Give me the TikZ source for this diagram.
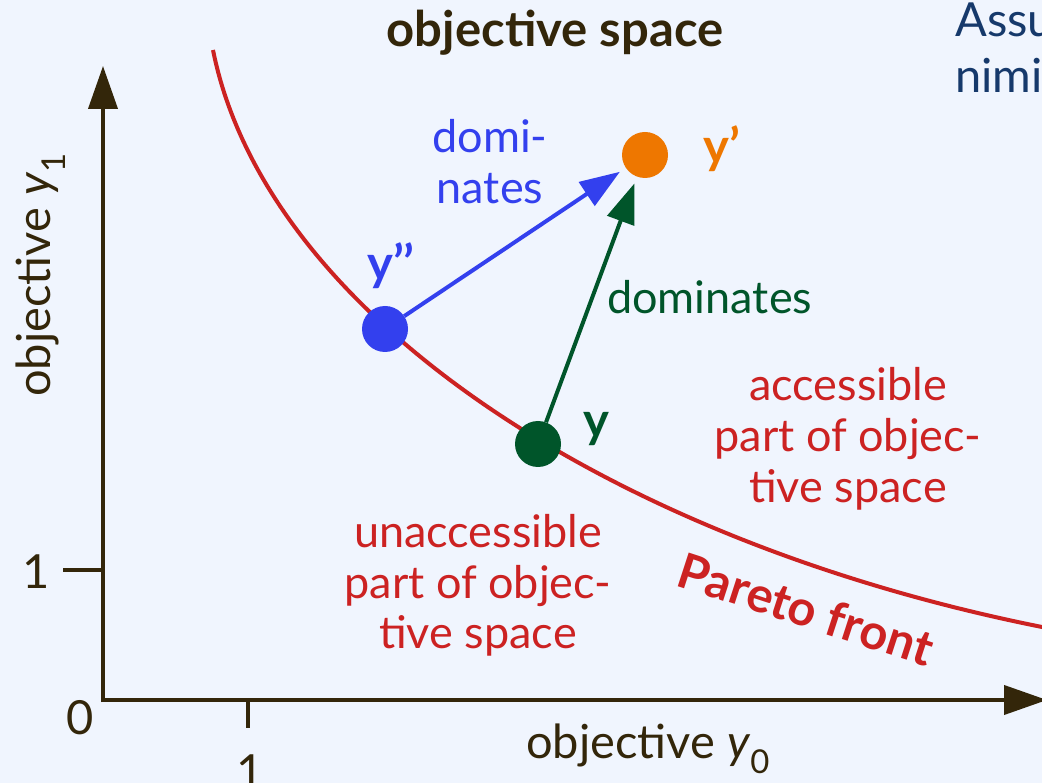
\documentclass[tikz,border=0pt]{standalone}
\usepackage{fontspec}
\setmainfont{Lato}
\usetikzlibrary{arrows.meta}
\definecolor{bgc}{HTML}{F0F5FE}
\definecolor{axisc}{HTML}{33260A}
\definecolor{paretoc}{HTML}{CC2222}
\definecolor{bluec}{HTML}{3340EE}
\definecolor{greenc}{HTML}{00552A}
\definecolor{orangec}{HTML}{EE7700}
\definecolor{navyc}{HTML}{16396B}
\tikzset{
  lbl/.style={inner sep=0pt, font=\fontsize{45}{51}\selectfont, align=center},
  axlbl/.style={inner sep=0pt, font=\fontsize{47}{51}\selectfont, text=axisc},
  blbl/.style={inner sep=0pt, font=\fontsize{49}{51}\selectfont\bfseries},
  axisline/.style={draw=axisc, line width=4pt},
  axarrow/.style={axisline, -{Triangle[length=43pt,width=29pt]}},
  dot/.style={circle, inner sep=0pt, minimum size=46pt},
  domarrow/.style={line width=4pt, -{Triangle[length=40pt,width=28pt]}, shorten >=7pt},
}
\begin{document}
\begin{tikzpicture}[x=1pt,y=-1pt]
\useasboundingbox (0,0) rectangle (1042,783);
\clip (0,0) rectangle (1042,783);
\fill[bgc] (0,0) rectangle (1042,783);

% title and side text
\node[blbl, text=axisc, anchor=base] (title) at (555,47) {objective space};
\node[lbl, text=navyc, anchor=base west, font=\fontsize{47}{56}\selectfont] (assu) at (955,37) {Assu};
\node[lbl, text=navyc, anchor=base west, font=\fontsize{47}{56}\selectfont] (nimi) at (955,93) {nimi};

% axes
\coordinate (ytip) at (103,66);
\coordinate (xtip) at (1047,700);
\draw[axarrow] (103,702) -- (ytip);
\draw[axarrow] (101,700) -- (xtip);
\coordinate (ytick) at (63,570);
\coordinate (ytickend) at (103,570);
\draw[axisline] (ytick) -- (ytickend);
\coordinate (xtick) at (248,700);
\coordinate (xtickend) at (248,728);
\draw[axisline] (xtick) -- (xtickend);
\node[axlbl] (one-y) at (36,572) {1};
\node[axlbl] (zero) at (80,718) {0};
\node[axlbl] (one-x) at (250,772) {1};
\node[axlbl, anchor=base] (xlabel) at (648,758) {objective \textit{y}\textsubscript{0}};
\node[axlbl, anchor=base, rotate=90] (ylabel) at (50,275) {objective \textit{y}\textsubscript{1}};

% Pareto front
\coordinate (pf-start) at (213,50);
\coordinate (pf-end) at (1042,627);
\draw[draw=paretoc, line width=4pt] (pf-start) .. controls (265,310) and (602,539) .. (pf-end) -- ++(20,3.6);

% points
\node[dot, fill=bluec] (ypp) at (385,329) {};
\node[dot, fill=greenc] (y) at (538,444) {};
\node[dot, fill=orangec] (yp) at (645,155) {};

% arrows
\draw[domarrow, draw=bluec, fill=bluec] (ypp) -- (yp);
\draw[domarrow, draw=greenc, fill=greenc] (y) -- (yp);

% point labels
\node[blbl, text=bluec, anchor=base west] (ypp-l) at (367,281) {y’’};
\node[blbl, text=orangec, anchor=base west] (yp-l) at (703,164) {y’};
\node[blbl, text=greenc, anchor=base west] (y-l) at (583,438) {y};

% arrow labels
\node[lbl, text=bluec, anchor=base] (dom1a) at (490,153) {domi-};
\node[lbl, text=bluec, anchor=base] (dom1b) at (490,204) {nates};
\node[lbl, text=greenc, anchor=base west] (dom2) at (607,314) {dominates};

% region labels
\node[lbl, text=paretoc, anchor=base] (acc1) at (848,401) {accessible};
\node[lbl, text=paretoc, anchor=base] (acc2) at (848,452) {part of objec-};
\node[lbl, text=paretoc, anchor=base] (acc3) at (848,503) {tive space};
\node[lbl, text=paretoc, anchor=base] (un1) at (478,547) {unaccessible};
\node[lbl, text=paretoc, anchor=base] (un2) at (478,598) {part of objec-};
\node[lbl, text=paretoc, anchor=base] (un3) at (478,648) {tive space};

\node[blbl, text=paretoc, rotate=-18] (pf) at (806,609) {Pareto front};
\end{tikzpicture}
\end{document}
